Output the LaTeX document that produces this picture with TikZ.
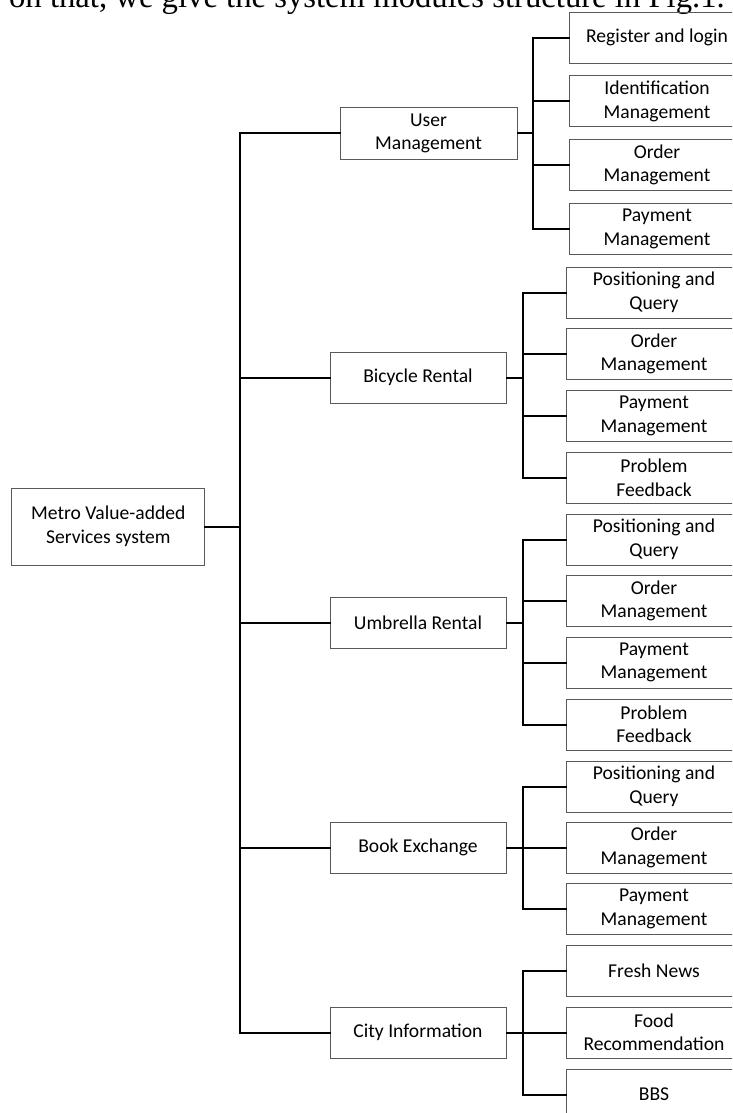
\documentclass[tikz,border=0pt]{standalone}
\usepackage{fontspec}
\usepackage{tikz}
\newfontfamily\carlito{Carlito}
\newfontfamily\timesfont{Liberation Serif}
\tikzstyle{bx} = [draw=black!65, line width=1pt, minimum width=176pt, minimum height=51pt, inner sep=0pt, align=center, font=\carlito\fontsize{19.6pt}{23.5pt}\selectfont]
\tikzstyle{cn} = [line width=2pt, line cap=rect]

\begin{document}
\begin{tikzpicture}[yscale=-1]
			\path[use as bounding box] (0pt,0pt) rectangle (732pt,1113pt);
			\clip (0pt,0pt) rectangle (732pt,1113pt);
			\node[anchor=base east, inner sep=0pt, font=\timesfont\fontsize{32.7pt}{36pt}\selectfont] (cap) at (725pt,7.3pt) {r on that, we give the system modules structure in Fig.1.};
			\coordinate (tr) at (240pt,0pt);
			\coordinate (bu) at (533pt,0pt);
			\coordinate (bx) at (523pt,0pt);
			\node[bx, minimum width=193pt, minimum height=77pt] (root) at (108.3pt,526.5pt) {Metro Value-added\\Services system};
			\node[bx, minimum width=177pt] (um) at (428.5pt,133.5pt) {User\\Management};
			\node[bx] (br) at (418pt,377.5pt) {Bicycle Rental};
			\node[bx] (ur) at (418pt,622.5pt) {Umbrella Rental};
			\node[bx] (be) at (418pt,847.5pt) {Book Exchange};
			\node[bx] (ci) at (418pt,1032.5pt) {City Information};
			\node[bx] (umreg) at (657pt,37.7pt) {Register and login};
			\node[bx] (umid) at (657pt,101.5pt) {Identification\\Management};
			\node[bx] (umord) at (657pt,165pt) {Order\\Management};
			\node[bx] (umpay) at (657pt,229pt) {Payment\\Management};
			\node[bx] (brpos) at (654pt,292.5pt) {Positioning and\\Query};
			\node[bx] (brord) at (654pt,354pt) {Order\\Management};
			\node[bx] (brpay) at (654pt,416pt) {Payment\\Management};
			\node[bx] (brfb) at (654pt,478pt) {Problem\\Feedback};
			\node[bx] (urpos) at (654pt,539.5pt) {Positioning and\\Query};
			\node[bx] (urord) at (654pt,601pt) {Order\\Management};
			\node[bx] (urpay) at (654pt,662.5pt) {Payment\\Management};
			\node[bx] (urfb) at (654pt,724.5pt) {Problem\\Feedback};
			\node[bx] (bepos) at (654pt,786.5pt) {Positioning and\\Query};
			\node[bx] (beord) at (654pt,847.5pt) {Order\\Management};
			\node[bx] (bepay) at (654pt,909pt) {Payment\\Management};
			\node[bx] (cinews) at (654pt,970.5pt) {Fresh News};
			\node[bx] (cifood) at (654pt,1032.5pt) {Food\\Recommendation};
			\node[bx] (cibbs) at (654pt,1094.5pt) {BBS};
			\draw[cn] (root.east) -- (tr |- root.east);
			\draw[cn] (um.west) -| (tr |- ci.west) -- (ci.west);
			\draw[cn] (tr |- br.west) -- (br.west);
			\draw[cn] (tr |- ur.west) -- (ur.west);
			\draw[cn] (tr |- be.west) -- (be.west);
			\draw[cn] (um.east) -- (bu |- um.east);
			\draw[cn] (umreg.west) -| (bu |- umpay.west) -- (umpay.west);
			\draw[cn] (bu |- umid.west) -- (umid.west);
			\draw[cn] (bu |- umord.west) -- (umord.west);
			\draw[cn] (br.east) -- (bx |- br.east);
			\draw[cn] (brpos.west) -| (bx |- brfb.west) -- (brfb.west);
			\draw[cn] (bx |- brord.west) -- (brord.west);
			\draw[cn] (bx |- brpay.west) -- (brpay.west);
			\draw[cn] (ur.east) -- (bx |- ur.east);
			\draw[cn] (urpos.west) -| (bx |- urfb.west) -- (urfb.west);
			\draw[cn] (bx |- urord.west) -- (urord.west);
			\draw[cn] (bx |- urpay.west) -- (urpay.west);
			\draw[cn] (be.east) -- (bx |- be.east);
			\draw[cn] (bepos.west) -| (bx |- bepay.west) -- (bepay.west);
			\draw[cn] (bx |- beord.west) -- (beord.west);
			\draw[cn] (ci.east) -- (bx |- ci.east);
			\draw[cn] (cinews.west) -| (bx |- cibbs.west) -- (cibbs.west);
			\draw[cn] (bx |- cifood.west) -- (cifood.west);
		\end{tikzpicture}
\end{document}
